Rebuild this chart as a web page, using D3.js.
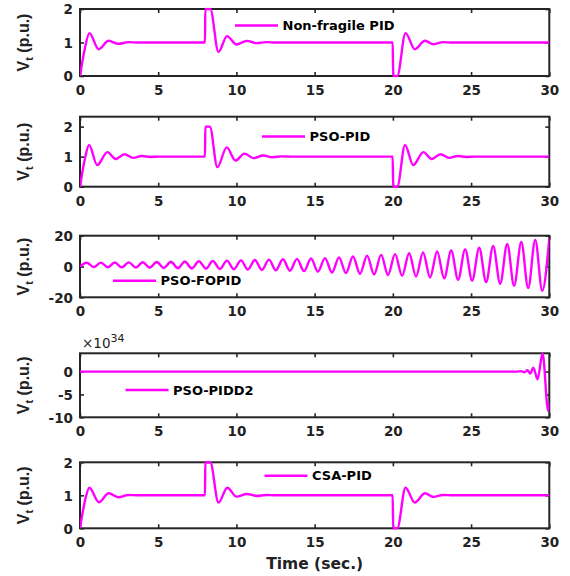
<!DOCTYPE html>
<html>
<head>
<meta charset="utf-8">
<script src="https://cdn.jsdelivr.net/npm/d3@7"></script>
<style>
  html, body { margin: 0; padding: 0; background: #ffffff; }
  svg { display: block; }
</style>
</head>
<body>
<script>
// ---------------- DATA ----------------
const xTicks = [0, 5, 10, 15, 20, 25, 30];
const legendLabels = ["Non-fragile PID", "PSO-PID", "PSO-FOPID", "PSO-PIDD2", "CSA-PID"];
const yTicks1 = [0, 1, 2];
const yTicks2 = [0, 1, 2];
const yTicks3 = [-20, 0, 20];
const yTicks4 = [-10, -5, 0];
const yTicks5 = [0, 1, 2];
const yDomain1 = [0, 2];
const yDomain2 = [0, 2.33];
const yDomain3 = [-20, 20];
const yDomain4 = [-10, 4];
const yDomain5 = [0, 2];
const exponentLabel = ["\u00d710", "34"];

// Non-fragile PID
const nfTime  = [0, 0.3, 0.6, 1.19, 1.83, 2.45, 3.09, 3.7, 7.99, 8.01, 8.33, 8.85, 9.4, 10.0, 10.66, 11.3, 11.9, 12.5, 19.99, 20.02, 20.28, 20.81, 21.4, 22.05, 22.6, 23.2, 23.8, 30];
const nfValue = [0, 0.8, 1.28, 0.8, 1.05, 0.96, 1.01, 1.0, 1.0, 2.0, 2.0, 0.72, 1.19, 0.94, 1.05, 0.98, 1.01, 1.0, 1.0, 0.0, 0.0, 1.28, 0.8, 1.05, 0.95, 1.01, 1.0, 1.0];

// PSO-PID
const psoTime  = [0, 0.3, 0.58, 1.1, 1.75, 2.28, 2.84, 3.4, 3.95, 4.5, 5.1, 7.99, 8.01, 8.3, 8.78, 9.38, 9.94, 10.51, 11.09, 11.7, 12.3, 12.9, 13.5, 19.99, 20.02, 20.28, 20.78, 21.3, 21.95, 22.48, 23.04, 23.6, 24.15, 24.7, 25.3, 30];
const psoValue = [0, 0.9, 1.39, 0.72, 1.15, 0.92, 1.08, 0.96, 1.02, 0.99, 1.0, 1.0, 2.0, 2.0, 0.65, 1.31, 0.87, 1.1, 0.95, 1.04, 0.98, 1.01, 1.0, 1.0, 0.0, 0.0, 1.39, 0.72, 1.15, 0.92, 1.08, 0.96, 1.02, 0.99, 1.0, 1.0];

// PSO-FOPID (alternating peaks / troughs)
const foTime  = [0, 0.43, 0.88, 1.33, 1.78, 2.22, 2.67, 3.12, 3.57, 4.01, 4.46, 4.91, 5.36, 5.81, 6.26, 6.70, 7.15, 7.60, 8.05, 8.49, 8.94, 9.39, 9.84, 10.29, 10.73, 11.18, 11.63, 12.08, 12.52, 12.97, 13.42, 13.87, 14.32, 14.77, 15.21, 15.66, 16.11, 16.56, 17.00, 17.45, 17.90, 18.35, 18.80, 19.25, 19.69, 20.14, 20.59, 21.04, 21.48, 21.93, 22.38, 22.83, 23.28, 23.73, 24.17, 24.62, 25.07, 25.52, 25.96, 26.41, 26.86, 27.31, 27.75, 28.21, 28.65, 29.10, 29.55, 30.0];
const foValue = [0, 2.4, -0.4, 2.5, -0.5, 2.6, -0.6, 2.7, -0.7, 2.8, -0.8, 2.95, -0.95, 3.1, -1.1, 3.25, -1.25, 3.4, -1.4, 3.6, -1.6, 3.8, -1.8, 4.0, -2.0, 4.2, -2.25, 4.45, -2.5, 4.7, -2.75, 4.95, -3.0, 5.2, -3.3, 5.45, -3.9, 5.95, -4.3, 6.5, -4.7, 7.05, -5.2, 7.55, -5.6, 8.05, -6.0, 8.6, -6.5, 9.1, -7.1, 9.7, -7.7, 10.35, -8.6, 11.15, -9.2, 12.2, -10.1, 13.3, -11.2, 14.6, -12.5, 15.9, -14.0, 17.2, -15.7, 18.5];

// PSO-PIDD2 (values in units of 1e34)
const pdTime  = [0, 27.9, 28.2, 28.42, 28.6, 28.78, 28.98, 29.25, 29.57, 29.93, 30.0];
const pdValue = [0, 0, 0.08, -0.15, 0.3, -0.45, 0.85, -1.7, 3.95, -8.6, -6.8];

// CSA-PID
const csaTime  = [0, 0.3, 0.6, 1.21, 1.83, 2.45, 3.1, 3.7, 7.99, 8.01, 8.33, 8.85, 9.42, 10.0, 10.66, 11.3, 11.9, 12.5, 19.99, 20.02, 20.28, 20.81, 21.4, 22.05, 22.6, 23.2, 23.8, 30];
const csaValue = [0, 0.8, 1.23, 0.79, 1.06, 0.94, 1.01, 1.0, 1.0, 2.0, 2.0, 0.78, 1.23, 0.96, 1.04, 0.98, 1.01, 1.0, 1.0, 0.0, 0.0, 1.23, 0.78, 1.06, 0.95, 1.01, 1.0, 1.0];

// ---------------- LAYOUT ----------------
const W = 570, H = 576;
const LEFT = 80, RIGHT = 549.3;
const LINE_COLOR = "#ff00ff";
const AXIS_COLOR = "#262626";
const TICK_FONT = "'DejaVu Sans', sans-serif";
const fmt = d => String(d);

const panels = [
  { time: nfTime,  value: nfValue,  top: 9,     bottom: 76,    domain: yDomain1, ticks: yTicks1, label: legendLabels[0], legX: 235,   legY: 25.5 },
  { time: psoTime, value: psoValue, top: 116.7, bottom: 186.7, domain: yDomain2, ticks: yTicks2, label: legendLabels[1], legX: 262,   legY: 136.5 },
  { time: foTime,  value: foValue,  top: 235.7, bottom: 297.3, domain: yDomain3, ticks: yTicks3, label: legendLabels[2], legX: 113,   legY: 280.7 },
  { time: pdTime,  value: pdValue,  top: 353.3, bottom: 417.3, domain: yDomain4, ticks: yTicks4, label: legendLabels[3], legX: 125.5, legY: 390, exponent: true },
  { time: csaTime, value: csaValue, top: 462.3, bottom: 528.3, domain: yDomain5, ticks: yTicks5, label: legendLabels[4], legX: 264.5, legY: 475.7 }
];

const svg = d3.select("body").append("svg")
  .attr("width", W).attr("height", H)
  .attr("viewBox", `0 0 ${W} ${H}`);

svg.append("rect").attr("width", W).attr("height", H).attr("fill", "#fff");

const x = d3.scaleLinear().domain([0, 30]).range([LEFT, RIGHT]);
const TICK_LEN = 4;

panels.forEach((p, i) => {
  const y = d3.scaleLinear().domain(p.domain).range([p.bottom, p.top]);
  const g = svg.append("g");

  const clipId = "clip" + i;
  svg.append("clipPath").attr("id", clipId)
    .append("rect")
    .attr("x", LEFT).attr("y", p.top - 1.5)
    .attr("width", RIGHT - LEFT).attr("height", p.bottom - p.top + 3);

  g.append("rect")
    .attr("x", LEFT).attr("y", p.top)
    .attr("width", RIGHT - LEFT).attr("height", p.bottom - p.top)
    .attr("fill", "none").attr("stroke", AXIS_COLOR).attr("stroke-width", 2);

  const xb = d3.axisBottom(x).tickValues(xTicks).tickFormat(fmt).tickSize(-TICK_LEN).tickSizeOuter(0).tickPadding(6);
  const xt = d3.axisTop(x).tickValues(xTicks).tickSize(-TICK_LEN).tickSizeOuter(0).tickFormat("");
  const yl = d3.axisLeft(y).tickValues(p.ticks).tickFormat(fmt).tickSize(-TICK_LEN).tickSizeOuter(0).tickPadding(7);
  const yr = d3.axisRight(y).tickValues(p.ticks).tickSize(-TICK_LEN).tickSizeOuter(0).tickFormat("");

  const axB = g.append("g").attr("transform", `translate(0,${p.bottom})`).call(xb);
  const axT = g.append("g").attr("transform", `translate(0,${p.top})`).call(xt);
  const axL = g.append("g").attr("transform", `translate(${LEFT},0)`).call(yl);
  const axR = g.append("g").attr("transform", `translate(${RIGHT},0)`).call(yr);

  [axB, axT, axL, axR].forEach(a => {
    a.select(".domain").remove();
    a.selectAll(".tick line").attr("stroke", AXIS_COLOR).attr("stroke-width", 1.6);
    a.selectAll(".tick text")
      .attr("fill", "#222")
      .attr("font-family", TICK_FONT)
      .attr("font-weight", "bold")
      .attr("font-size", 13.5);
  });
  axB.selectAll(".tick text").attr("dy", "0.95em");
  axL.selectAll(".tick text").attr("dy", "0.36em");

  const pts = p.time.map((t, k) => [t, p.value[k]]);
  const line = d3.line()
    .x(d => x(d[0]))
    .y(d => y(d[1]))
    .curve(d3.curveMonotoneX);
  g.append("path")
    .datum(pts)
    .attr("clip-path", `url(#${clipId})`)
    .attr("d", line)
    .attr("fill", "none")
    .attr("stroke", LINE_COLOR)
    .attr("stroke-width", 2.4)
    .attr("stroke-linejoin", "round");

  g.append("line")
    .attr("x1", p.legX).attr("x2", p.legX + 43)
    .attr("y1", p.legY).attr("y2", p.legY)
    .attr("stroke", LINE_COLOR).attr("stroke-width", 2.4);
  g.append("text")
    .attr("x", p.legX + 47.5).attr("y", p.legY)
    .attr("dy", "0.36em")
    .attr("font-family", TICK_FONT)
    .attr("font-weight", "bold")
    .attr("font-size", 13)
    .attr("fill", "#000")
    .text(p.label);

  const cy = (p.top + p.bottom) / 2;
  const ylab = g.append("text")
    .attr("transform", `translate(28.5,${cy}) rotate(-90)`)
    .attr("text-anchor", "middle")
    .attr("font-family", "'Liberation Sans', Arial, sans-serif")
    .attr("font-weight", "bold")
    .attr("font-size", 16)
    .attr("fill", "#222");
  ylab.append("tspan").text("V");
  ylab.append("tspan").attr("font-size", 11).attr("dy", 4.5).text("t");
  ylab.append("tspan").attr("dy", -4.5).text(" (p.u.)");

  if (p.exponent) {
    const ex = g.append("text")
      .attr("x", LEFT + 2).attr("y", p.top - 5)
      .attr("font-family", TICK_FONT)
      .attr("font-size", 13.5)
      .attr("fill", "#222");
    ex.append("tspan").text(exponentLabel[0]);
    ex.append("tspan").attr("font-size", 11).attr("dy", -6).text(exponentLabel[1]);
  }
});

svg.append("text")
  .attr("x", (LEFT + RIGHT) / 2).attr("y", 569)
  .attr("text-anchor", "middle")
  .attr("font-family", TICK_FONT)
  .attr("font-weight", "bold")
  .attr("font-size", 15.5)
  .attr("fill", "#222")
  .text("Time (sec.)");
</script>
</body>
</html>
